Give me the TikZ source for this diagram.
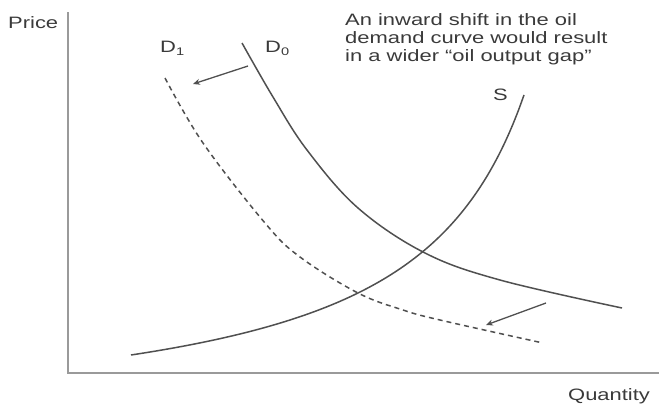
\documentclass[tikz,border=0pt]{standalone}
\usepackage{fontspec}
\setmainfont{Liberation Sans}
\usetikzlibrary{arrows.meta}
\definecolor{txt}{HTML}{3A3A3A}
\definecolor{crv}{HTML}{505050}
\definecolor{ax}{HTML}{9A9A9A}
\newcommand{\wide}[1]{\scalebox{1.33}[1]{#1}}
\newcommand{\subidx}[1]{\raisebox{-3pt}{\fontsize{11}{11}\selectfont #1}}
\begin{document}
\begin{tikzpicture}[x=1pt,y=-1pt,
  lbl/.style={anchor=base west, inner sep=0pt, text=txt, font=\fontsize{16.5}{18}\selectfont},
  curve/.style={draw=crv, line width=1.5pt},
  dcurve/.style={curve, dash pattern=on 5pt off 4pt},
  shiftarrow/.style={draw=crv, line width=1.3pt, -{Stealth[length=7pt,width=6pt]}},
  axis/.style={draw=ax, line width=1.6pt}]
\useasboundingbox (0,0) rectangle (659,408);
% axes
\coordinate (ytop) at (68,12);
\coordinate (origin) at (68,373);
\coordinate (xend) at (659,373);
\draw[axis] (ytop) -- (origin) -- (xend);
% demand D0
\draw[curve] plot[smooth, tension=0.6] coordinates {(242,43) (273,97) (307,150) (358,208) (425,253) (500,280) (622,308)};
% demand D1 (dashed)
\draw[dcurve] plot[smooth, tension=0.6] coordinates {(165,78) (203,143) (265,223) (300,257) (358,293) (403,310) (440,320) (543,343)};
% supply S
\draw[curve] plot[domain=131:524, samples=80, smooth] (\x, {432.2 - 393.56/((640.7-\x)/100)});
% shift arrows
\coordinate (a1s) at (248,66);
\coordinate (a1e) at (193,84);
\coordinate (a2s) at (546,303);
\coordinate (a2e) at (486,325);
\draw[shiftarrow] (a1s) -- (a1e);
\draw[shiftarrow] (a2s) -- (a2e);
% labels
\node[lbl] (price) at (8,28) {\wide{Price}};
\node[lbl] (qty) at (568,400) {\wide{Quantity}};
\node[lbl] (d1) at (160,52) {\wide{D\subidx{1}}};
\node[lbl] (d0) at (265,52) {\wide{D\subidx{0}}};
\node[lbl] (s) at (493,100) {\wide{S}};
\node[lbl] (note) at (345,25) {\wide{\begin{tabular}[t]{@{}l@{}}An inward shift in the oil\\demand curve would result\\in a wider ``oil output gap''\end{tabular}}};
\end{tikzpicture}
\end{document}
